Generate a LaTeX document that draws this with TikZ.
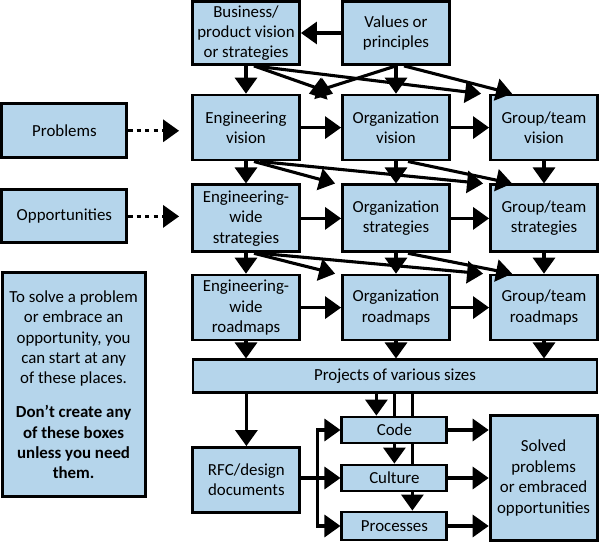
\documentclass[tikz,border=0pt]{standalone}
\usepackage{xcolor}
\usepackage{fontspec}
\setmainfont{Carlito}
\usepackage{tikz}
\usetikzlibrary{arrows.meta, positioning, calc, backgrounds}
\definecolor{boxblue}{RGB}{181,213,235}

\begin{document}
\begin{tikzpicture}[
    box/.style={rectangle, draw, line width=2pt, fill=boxblue, minimum width=2.675cm, minimum height=1.625cm, align=center, inner sep=1pt, font=\fontsize{12}{14.5}\selectfont},
    slim/.style={box, minimum width=2.625cm, minimum height=0.65cm},
    arrow/.style={-{Triangle[length=0.4cm, width=0.55cm]}, line width=2.2pt},
    dotarrow/.style={arrow, dash pattern=on 3pt off 3pt, shorten >=0.3cm}
]
    \useasboundingbox (0,0) rectangle (15,13.6);

    % top row
    \node[box, minimum height=1.575cm] (business) at (6.15,12.775) {Business/\\product vision\\or strategies};
    \node[box, minimum height=1.575cm] (values) at (9.9,12.775) {Values or\\principles};

    % vision, strategies, roadmaps
    \node[box] (engv) at (6.15,10.41) {Engineering\\vision};
    \node[box] (orgv) at (9.9,10.41) {Organization\\vision};
    \node[box] (grpv) at (13.6,10.41) {Group/team\\vision};
    \node[box, minimum height=1.675cm] (engs) at (6.15,8.14) {Engineering-\\wide\\strategies};
    \node[box, minimum height=1.675cm] (orgs) at (9.9,8.14) {Organization\\strategies};
    \node[box, minimum height=1.675cm] (grps) at (13.6,8.14) {Group/team\\strategies};
    \node[box] (engr) at (6.15,5.91) {Engineering-\\wide\\roadmaps};
    \node[box] (orgr) at (9.9,5.91) {Organization\\roadmaps};
    \node[box] (grpr) at (13.6,5.91) {Group/team\\roadmaps};

    \node[box, minimum width=10.1cm, minimum height=0.825cm] (projects) at (9.875,4.19) {Projects of various sizes};

    % outputs
    \node[box] (rfc) at (6.16,1.6) {RFC/design\\documents};
    \node[slim] (code) at (9.86,2.85) {Code};
    \node[slim] (culture) at (9.86,1.65) {Culture};
    \node[slim, minimum height=0.7cm] (processes) at (9.86,0.45) {Processes};
    \node[box, minimum height=3.125cm] (solved) at (13.59,1.65) {Solved\\problems\\or embraced\\opportunities};

    % left side
    \node[box, minimum width=3.125cm, minimum height=1.35cm] (problems) at (1.61,10.33) {Problems};
    \node[box, minimum width=3.125cm, minimum height=1.325cm] (opps) at (1.61,8.19) {Opportunities};
    \node[box, minimum width=3.575cm, minimum height=5.6cm] (note) at (1.84,3.98) {To solve a problem\\or embrace an\\opportunity, you\\can start at any\\of these places.\\[0.8em]\textbf{Don’t create any}\\\textbf{of these boxes}\\\textbf{unless you need}\\\textbf{them.}};

    \draw[dotarrow] (problems.east) -- (problems.east -| engv.west);
    \draw[dotarrow] (opps.east) -- (opps.east -| engs.west);

    % top row to vision
    \draw[arrow] (values.west) -- (business.east);
    \draw[arrow] (business.south) -- (engv.north);
    \draw[arrow] ($(business.south)+(0.2,0)$) -- ($(orgv.north west)+(-0.2,0)$);
    \draw[arrow] ($(business.south)+(0.2,0)$) -- ($(grpv.north west)+(-0.2,0)$);
    \draw[arrow] (values.south) -- ($(engv.north east)+(0.2,0)$);
    \draw[arrow] (values.south) -- (orgv.north);
    \draw[arrow] ($(values.south)+(0.2,0)$) -- ($(grpv.north west)+(0.575,0)$);

    % vision to strategies
    \draw[arrow] (engv.east) -- (orgv.west);
    \draw[arrow] (orgv.east) -- (grpv.west);
    \draw[arrow] (engv.south) -- (engs.north);
    \draw[arrow] (orgv.south) -- (orgs.north);
    \draw[arrow] (grpv.south) -- (grps.north);
    \draw[arrow] ($(engv.south)+(0.2,0)$) -- ($(orgs.north west)+(-0.15,0)$);
    \draw[arrow] ($(engv.south)+(0.35,0)$) -- ($(grps.north west)+(-0.15,0)$);
    \draw[arrow] ($(orgv.south)+(0.3,0)$) -- ($(grps.north west)+(0.575,0)$);

    % strategies to roadmaps
    \draw[arrow] (engs.east) -- (orgs.west);
    \draw[arrow] (orgs.east) -- (grps.west);
    \draw[arrow] (engs.south) -- (engr.north);
    \draw[arrow] (orgs.south) -- (orgr.north);
    \draw[arrow] (grps.south) -- (grpr.north);
    \draw[arrow] ($(engs.south)+(0.2,0)$) -- ($(orgr.north west)+(-0.15,0)$);
    \draw[arrow] ($(engs.south)+(0.35,0)$) -- ($(grpr.north west)+(-0.15,0)$);
    \draw[arrow] ($(orgs.south)+(0.3,0)$) -- ($(grpr.north west)+(0.575,0)$);

    % roadmaps to projects
    \draw[arrow] (engr.east) -- (orgr.west);
    \draw[arrow] (orgr.east) -- (grpr.west);
    \draw[arrow] (engr.south) -- (engr.south |- projects.north);
    \draw[arrow] (orgr.south) -- (orgr.south |- projects.north);
    \draw[arrow] (grpr.south) -- (grpr.south |- projects.north);

    % projects to outputs
    \coordinate (intocode) at ($(code.north)+(-0.45,0)$);
    \coordinate (intoproc) at ($(processes.north)+(0.45,0)$);
    \draw[arrow] (projects.south -| rfc.north) -- (rfc.north);
    \draw[arrow] (projects.south -| intocode) -- (intocode);
    \begin{pgfonlayer}{background}
        \draw[arrow] (projects.south -| culture.north) -- (culture.north);
        \draw[arrow] (projects.south -| intoproc) -- (intoproc);
    \end{pgfonlayer}

    \coordinate (split) at ($(rfc.east |- culture.west)+(0.4,0)$);
    \draw[arrow] (rfc.east |- culture.west) -- (culture.west);
    \draw[arrow] (split) |- (code.west);
    \draw[arrow] (split) |- (processes.west);

    \draw[arrow] (code.east) -- (code.east -| solved.west);
    \draw[arrow] (culture.east) -- (culture.east -| solved.west);
    \draw[arrow] (processes.east) -- (processes.east -| solved.west);
\end{tikzpicture}
\end{document}
